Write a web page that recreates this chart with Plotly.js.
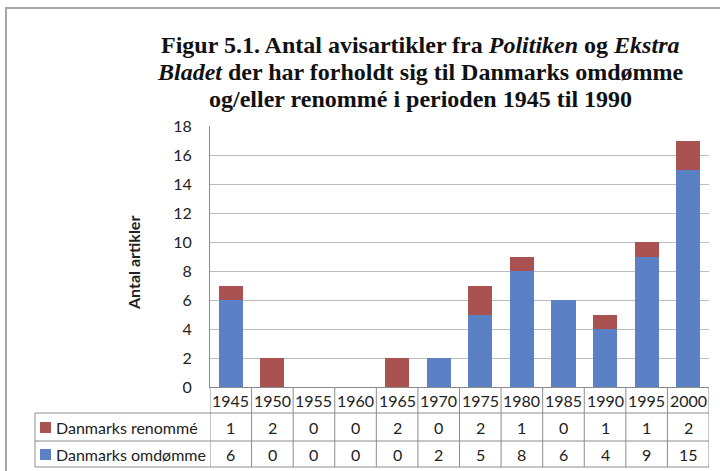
<!DOCTYPE html>
<html><head><meta charset="utf-8">
<script src="https://cdn.plot.ly/plotly-3.0.1.min.js"></script>
<style>html,body{margin:0;padding:0;background:#fff}</style>
</head><body><div id="chart" style="width:720px;height:471px"></div>
<script>
const years = ['1945','1950','1955','1960','1965','1970','1975','1980','1985','1990','1995','2000'];
const renomme = [1,2,0,0,2,0,2,1,0,1,1,2];
const omdomme = [6,0,0,0,0,2,5,8,6,4,9,15];
const seriesNames = ['Danmarks renommé','Danmarks omdømme'];
const titleLines = ['<b>Figur 5.1. Antal avisartikler fra <i>Politiken</i> og <i>Ekstra</i></b>',
  '<b><i>Bladet</i> der har forholdt sig til Danmarks omdømme</b>',
  '<b>og/eller renommé i perioden 1945 til 1990</b>'];
const colRen = '#AA5251';
const colOmd = '#5B80C6';
const yTicks = [0,2,4,6,8,10,12,14,16,18];

const W=720,H=471,L=210,R=11,T=126,B=84;
const pw=W-L-R, ph=H-T-B;
const px=x=>(x-L)/pw;
const py=y=>(H-B-y)/ph;

const FAM='Lato, "Open Sans", sans-serif';
const tf = {family:FAM, size:16, color:'#222'};
const lineCol = '#8c8c8c';

const shapes=[];
const annotations=[];
shapes.push({type:'rect',xref:'paper',yref:'paper',x0:px(6),x1:px(730),y0:py(8),y1:py(490),line:{color:'#a6a6a6',width:2}});
[413,441,467].forEach(y=>shapes.push({type:'line',xref:'paper',yref:'paper',x0:px(35),x1:1,y0:py(y),y1:py(y),line:{color:lineCol,width:1}}));
shapes.push({type:'line',xref:'paper',yref:'paper',x0:px(35),x1:px(35),y0:py(413),y1:py(467),line:{color:lineCol,width:1}});
for(let i=0;i<=years.length;i++){
  shapes.push({type:'line',xref:'x',yref:'paper',x0:i-0.5,x1:i-0.5,y0:0,y1:py(467),line:{color:lineCol,width:1}});
}
shapes.push({type:'rect',xref:'paper',yref:'paper',x0:px(40),x1:px(51),y0:py(422),y1:py(433),fillcolor:colRen,line:{width:0}});
shapes.push({type:'rect',xref:'paper',yref:'paper',x0:px(40),x1:px(51),y0:py(449),y1:py(460),fillcolor:colOmd,line:{width:0}});
annotations.push({xref:'paper',yref:'paper',x:px(54),y:py(427),xanchor:'left',yanchor:'middle',text:seriesNames[0],showarrow:false,font:tf});
annotations.push({xref:'paper',yref:'paper',x:px(54),y:py(454),xanchor:'left',yanchor:'middle',text:seriesNames[1],showarrow:false,font:tf});
years.forEach((yr,i)=>{
  annotations.push({xref:'x',yref:'paper',x:i,y:py(400),text:yr,showarrow:false,font:tf,xanchor:'center',yanchor:'middle'});
  annotations.push({xref:'x',yref:'paper',x:i,y:py(427),text:String(renomme[i]),showarrow:false,font:tf,xanchor:'center',yanchor:'middle'});
  annotations.push({xref:'x',yref:'paper',x:i,y:py(454),text:String(omdomme[i]),showarrow:false,font:tf,xanchor:'center',yanchor:'middle'});
});
annotations.push({xref:'paper',yref:'paper',x:px(133),y:py(263),text:'<b>Antal artikler</b>',textangle:-90,showarrow:false,font:{family:FAM,size:16,color:'#222'},xanchor:'center',yanchor:'middle'});
titleLines.forEach((t,k)=>{
  annotations.push({xref:'paper',yref:'paper',x:px(420),y:py(45+27*k),text:t,showarrow:false,xanchor:'center',yanchor:'middle',
    font:{family:'"Liberation Serif", "Times New Roman", serif',size:24,color:'#111'}});
});

const data=[
  {type:'bar',x:years,y:omdomme,name:seriesNames[1],marker:{color:colOmd},hoverinfo:'none'},
  {type:'bar',x:years,y:renomme,name:seriesNames[0],marker:{color:colRen},hoverinfo:'none'}
];
const layout={
  width:W,height:H,margin:{l:L,r:R,t:T,b:B},
  paper_bgcolor:'#fff',plot_bgcolor:'#fff',
  barmode:'stack',bargap:0.42,showlegend:false,
  xaxis:{type:'category',showticklabels:false,ticks:'',showgrid:false,showline:true,linecolor:lineCol,linewidth:1,range:[-0.5,11.5],zeroline:false},
  yaxis:{range:[0,18],tickvals:yTicks,ticks:'',showgrid:true,gridcolor:'#bdbdbd',gridwidth:1,showline:true,linecolor:lineCol,linewidth:1,zeroline:false,
    tickfont:tf,ticklabelstandoff:14},
  shapes,annotations
};
Plotly.newPlot('chart',data,layout,{displayModeBar:false,staticPlot:true});
</script></body></html>
